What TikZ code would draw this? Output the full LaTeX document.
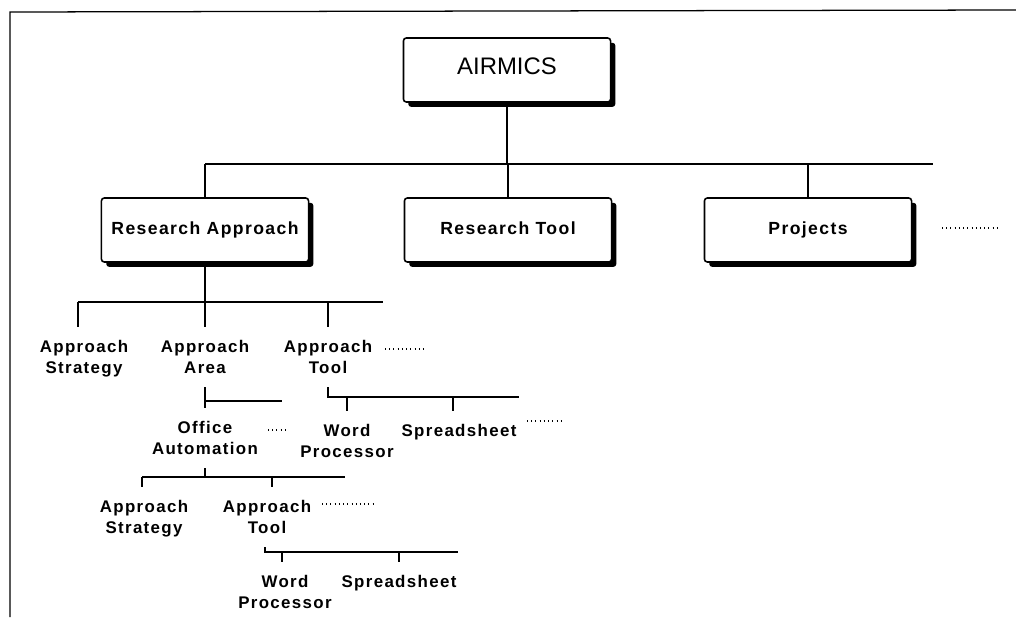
\documentclass[tikz,border=0pt]{standalone}
\usepackage{fontspec}
\setmainfont{Liberation Sans}
\newfontfamily\chartfont[LetterSpace=8]{Liberation Sans}
\usepackage{tikz}
\usetikzlibrary{shadows}

\begin{document}
\begin{tikzpicture} [x=0.025cm, y=-0.025cm,
      unitbox/.style={draw, line width=1.1pt, rounded corners=2pt, fill=white,
          minimum width=5.175cm, minimum height=1.6cm, text height=1.5ex, text depth=0.4ex,
          font=\chartfont\bfseries\fontsize{12.5}{15}\selectfont,
          drop shadow={shadow xshift=1.2mm, shadow yshift=-1.2mm, opacity=1, fill=black}},
      leaf/.style={align=center, anchor=north, inner xsep=0pt, inner ysep=9.5pt,
          font=\chartfont\bfseries\fontsize{12}{14.5}\selectfont},
      link/.style={line width=0.8pt},
      tree/.style={line width=2pt},
      more/.style={line width=0.9pt, dash pattern=on 0.6pt off 2.4pt}]
    \useasboundingbox (0,0) rectangle (1016,617);
    \draw[line width=0.9pt] (1016,10) -- (10,12) -- (10,617);

    \node[unitbox, font=\fontsize{17}{20}\selectfont] (airmics) at (507,70) {AIRMICS};
    \node[unitbox] (resapp) at (205,230) {Research Approach};
    \node[unitbox] (restool) at (508,230) {Research Tool};
    \node[unitbox] (projects) at (808,230) {Projects};

    \coordinate (bus1w) at (205,164);
    \coordinate (bus1e) at (933,164);
    \draw[link] (airmics.south) -- (airmics.south |- bus1w);
    \draw[link] (bus1w) -- (bus1e);
    \draw[link] (bus1w) -- (resapp.north);
    \draw[link] (restool.north |- bus1w) -- (restool.north);
    \draw[link] (projects.north |- bus1w) -- (projects.north);
    \coordinate (moreproj) at (942,228);
    \draw[more] (moreproj) -- ++(56,0);

    % Research Approach
    \node[leaf] (strat1) at (84,327) {Approach\\Strategy};
    \node[leaf] (area1) at (205,327) {Approach\\Area};
    \node[leaf] (tool1) at (328,327) {Approach\\Tool};
    \coordinate (bus2w) at (78,302);
    \coordinate (bus2e) at (383,302);
    \draw[tree] (resapp.south) -- (resapp.south |- bus2w);
    \draw[tree] (bus2w) -- (bus2e);
    \draw[tree] (bus2w) -- (bus2w |- strat1.north);
    \draw[tree] (area1.north |- bus2w) -- (area1.north);
    \draw[tree] (tool1.north |- bus2w) -- (tool1.north);
    \coordinate (moretool1) at (385,349);
    \draw[more] (moretool1) -- ++(38,0);

    % Approach Area
    \node[leaf] (office) at (205,408) {Office\\Automation};
    \coordinate (bus3w) at (205,401);
    \coordinate (bus3e) at (282,401);
    \draw[tree] (area1.south) -- (office.north);
    \draw[tree] (bus3w) -- (bus3e);
    \coordinate (moreoffice) at (268,430);
    \draw[more] (moreoffice) -- ++(18,0);

    % Approach Tool
    \node[leaf] (word1) at (347,411) {Word\\Processor};
    \node[leaf] (sheet1) at (459,411) {Spreadsheet};
    \coordinate (bus4w) at (328,397);
    \coordinate (bus4e) at (519,397);
    \draw[tree] (tool1.south) -- (bus4w) -- (bus4e);
    \draw[tree] (word1.north |- bus4w) -- (word1.north);
    \draw[tree] (453,397) coordinate (drop4) -- (drop4 |- sheet1.north);
    \coordinate (moresheet1) at (527,421);
    \draw[more] (moresheet1) -- ++(36,0);

    % Office Automation
    \node[leaf] (strat2) at (144,487) {Approach\\Strategy};
    \node[leaf] (tool2) at (267,487) {Approach\\Tool};
    \coordinate (bus5w) at (142,477);
    \coordinate (bus5e) at (345,477);
    \draw[tree] (office.south) -- (office.south |- bus5w);
    \draw[tree] (bus5w) -- (bus5e);
    \draw[tree] (bus5w) -- (bus5w |- strat2.north);
    \draw[tree] (272,477) coordinate (drop5) -- (drop5 |- tool2.north);
    \coordinate (moretool2) at (322,504);
    \draw[more] (moretool2) -- ++(53,0);

    % Approach Tool (office)
    \node[leaf] (word2) at (285,562) {Word\\Processor};
    \node[leaf] (sheet2) at (399,562) {Spreadsheet};
    \coordinate (bus6w) at (265,552);
    \coordinate (bus6e) at (458,552);
    \draw[tree] (tool2.south -| bus6w) -- (bus6w) -- (bus6e);
    \draw[tree] (282,552) coordinate (drop6) -- (drop6 |- word2.north);
    \draw[tree] (sheet2.north |- bus6w) -- (sheet2.north);
\end{tikzpicture}
\end{document}
